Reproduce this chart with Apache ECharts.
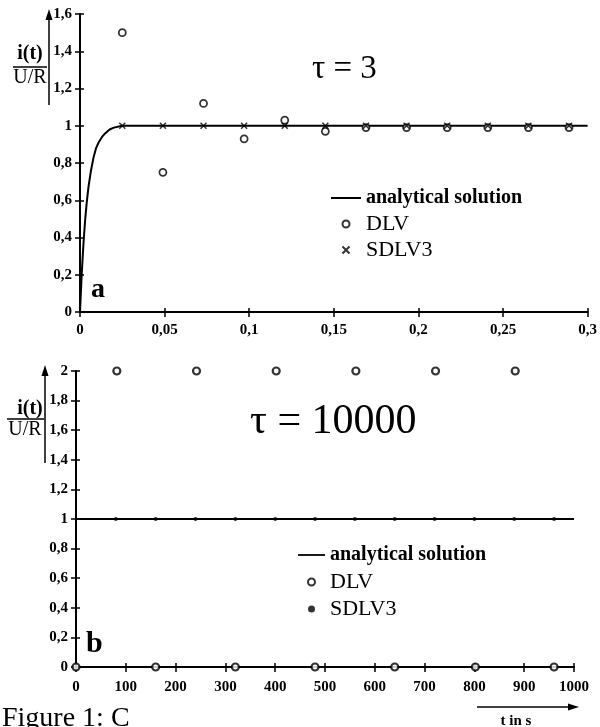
<!DOCTYPE html>
<html>
<head>
<meta charset="utf-8">
<script src="https://cdn.jsdelivr.net/npm/echarts@6/dist/echarts.min.js"></script>
<style>
  html, body { margin: 0; padding: 0; background: #fff; }
  #chart { width: 600px; height: 727px; }
</style>
</head>
<body>
<div id="chart"></div>
<script>
// tau = 3 (upper plot)
var topCurveT = [0, 0.001, 0.002, 0.003, 0.004, 0.005, 0.0065, 0.008, 0.0095, 0.011, 0.013, 0.015, 0.0175, 0.02, 0.025, 0.03, 0.3];
var topCurveV = [0, 0.2, 0.36, 0.49, 0.59, 0.67, 0.76, 0.83, 0.88, 0.91, 0.94, 0.96, 0.98, 0.99, 1, 1, 1];
var topStepT = [0.025, 0.049, 0.073, 0.097, 0.121, 0.145, 0.169, 0.193, 0.217, 0.241, 0.265, 0.289];
var topDLV = [1.5, 0.75, 1.12, 0.93, 1.03, 0.97, 0.99, 0.99, 0.99, 0.99, 0.99, 0.99];
var topSDLV3 = [1, 1, 1, 1, 1, 1, 1, 1, 1, 1, 1, 1];

// tau = 10000 (lower plot)
var botCurveT = [0, 1000];
var botCurveV = [1, 1];
var botDLVT = [0, 82, 160, 242, 320, 402, 480, 562, 640, 722, 802, 882, 960];
var botDLV = [0, 2, 0, 2, 0, 2, 0, 2, 0, 2, 0, 2, 0];
var botSDLVT = [80, 160, 240, 320, 400, 480, 560, 640, 720, 800, 880, 960];
var botSDLV3 = [1, 1, 1, 1, 1, 1, 1, 1, 1, 1, 1, 1];

var serif = 'Liberation Serif';

function zip(xs, ys) {
    return xs.map(function (x, i) { return [x, ys[i]]; });
}

function comma(v) {
    return String(+(+v).toFixed(3)).replace('.', ',');
}

function axis(opt, inside) {
    var a = {
        type: 'value',
        gridIndex: opt.grid,
        min: opt.min,
        max: opt.max,
        interval: opt.interval,
        position: opt.position,
        splitLine: {show: false},
        axisLine: {show: !inside, onZero: false, lineStyle: {color: '#000', width: 2}},
        axisTick: {show: true, inside: inside, length: inside ? 4 : 5, lineStyle: {color: '#000', width: 1.5}},
        axisLabel: {
            show: !inside,
            margin: opt.margin,
            color: '#000',
            fontFamily: serif,
            fontWeight: 'bold',
            fontSize: 15,
            formatter: comma
        }
    };
    return a;
}

function arrow(x1, y1, x2, y2) {
    // decorative arrow, head at (x2, y2)
    var ang = Math.atan2(y2 - y1, x2 - x1);
    var hl = 11, hw = 3.5;
    var bx = x2 - hl * Math.cos(ang), by = y2 - hl * Math.sin(ang);
    var px = -Math.sin(ang) * hw, py = Math.cos(ang) * hw;
    return [{
        type: 'line',
        shape: {x1: x1, y1: y1, x2: bx, y2: by},
        style: {stroke: '#000', lineWidth: 1.5}
    }, {
        type: 'polygon',
        shape: {points: [[x2, y2], [bx + px, by + py], [bx - px, by - py]]},
        style: {fill: '#000'}
    }];
}

function txt(x, y, s, size, weight, align) {
    return {
        type: 'text',
        x: x, y: y,
        style: {
            text: s, fill: '#000', font: (weight || 'normal') + ' ' + size + 'px "' + serif + '"',
            textAlign: align || 'left', textVerticalAlign: 'middle'
        }
    };
}

var graphics = []
    .concat(arrow(49, 105, 49, 9))
    .concat(arrow(45, 463, 45, 365))
    .concat(arrow(477, 707, 579, 707))
    .concat([
        txt(30, 54, 'i(t)', 20, 'bold', 'center'),
        {type: 'line', shape: {x1: 13, y1: 67, x2: 47, y2: 67}, style: {stroke: '#000', lineWidth: 1.5}},
        txt(30, 78, 'U/R', 20, 'normal', 'center'),
        txt(30, 409, 'i(t)', 20, 'bold', 'center'),
        {type: 'line', shape: {x1: 7, y1: 419, x2: 44, y2: 419}, style: {stroke: '#000', lineWidth: 1.5}},
        txt(25, 430, 'U/R', 20, 'normal', 'center'),
        txt(91, 290, 'a', 28, 'bold'),
        txt(86, 644, 'b', 30, 'bold'),
        txt(516, 721, 't in s', 15, 'bold', 'center'),
        txt(2, 719, 'Figure 1: C', 28, 'normal')
    ]);

var lineIcon = 'path://M0,0L30,0L30,2L0,2Z';

var chart = echarts.init(document.getElementById('chart'));

var option = {
    backgroundColor: '#fff',
    animation: false,
    title: [{
        text: 'τ = 3', left: 307, top: 48,
        textStyle: {fontFamily: serif, fontWeight: 'normal', fontSize: 33, color: '#000'}
    }, {
        text: 'τ = 10000', left: 245, top: 396,
        textStyle: {fontFamily: serif, fontWeight: 'normal', fontSize: 42, color: '#000'}
    }],
    grid: [
        {left: 80, top: 14, width: 508, height: 298},
        {left: 76, top: 371, width: 498, height: 296}
    ],
    xAxis: [
        axis({grid: 0, min: 0, max: 0.3, interval: 0.05, margin: 11, position: 'bottom'}, false),
        axis({grid: 0, min: 0, max: 0.3, interval: 0.05, position: 'bottom'}, true),
        axis({grid: 1, min: 0, max: 1000, interval: 100, margin: 13, position: 'bottom'}, false),
        axis({grid: 1, min: 0, max: 1000, interval: 100, position: 'bottom'}, true)
    ],
    yAxis: [
        axis({grid: 0, min: 0, max: 1.6, interval: 0.2, margin: 8, position: 'left'}, false),
        axis({grid: 0, min: 0, max: 1.6, interval: 0.2, position: 'left'}, true),
        axis({grid: 1, min: 0, max: 2, interval: 0.2, margin: 8, position: 'left'}, false),
        axis({grid: 1, min: 0, max: 2, interval: 0.2, position: 'left'}, true)
    ],
    legend: [{
        left: 326, top: 182, orient: 'vertical', selectedMode: false,
        itemWidth: 30, itemHeight: 7, itemGap: 4,
        textStyle: {fontFamily: serif, fontSize: 22, color: '#000', lineHeight: 22},
        data: [
            {name: 'analytical solution', icon: lineIcon, itemStyle: {color: '#000'},
             textStyle: {fontWeight: 'bold', fontSize: 20}},
            'DLV',
            'SDLV3'
        ]
    }, {
        left: 293, top: 539, orient: 'vertical', selectedMode: false,
        itemWidth: 27, itemHeight: 7, itemGap: 5,
        textStyle: {fontFamily: serif, fontSize: 22, color: '#000', lineHeight: 22},
        data: [
            {name: 'analytical solution', icon: lineIcon, itemStyle: {color: '#000'},
             textStyle: {fontWeight: 'bold', fontSize: 20}},
            'DLV',
            {name: 'SDLV3', icon: 'circle', itemStyle: {color: '#000', borderWidth: 0}}
        ]
    }],
    series: [{
        name: 'analytical solution', type: 'line', xAxisIndex: 0, yAxisIndex: 0,
        data: zip(topCurveT, topCurveV), symbol: 'none',
        itemStyle: {color: '#000'},
        lineStyle: {color: '#000', width: 2}, z: 2
    }, {
        name: 'DLV', type: 'scatter', xAxisIndex: 0, yAxisIndex: 0,
        data: zip(topStepT, topDLV), symbol: 'circle', symbolSize: 7,
        itemStyle: {color: '#fff', borderColor: '#000', borderWidth: 1.8}, z: 3
    }, {
        name: 'SDLV3', type: 'scatter', xAxisIndex: 0, yAxisIndex: 0,
        data: zip(topStepT, topSDLV3), symbol: 'path://M0,0L10,10M10,0L0,10', symbolSize: 6,
        itemStyle: {color: '#000', borderColor: '#000', borderWidth: 1.5}, z: 4
    }, {
        name: 'analytical solution', type: 'line', xAxisIndex: 2, yAxisIndex: 2,
        data: zip(botCurveT, botCurveV), symbol: 'none',
        itemStyle: {color: '#000'},
        lineStyle: {color: '#000', width: 2}, z: 2
    }, {
        name: 'DLV', type: 'scatter', xAxisIndex: 2, yAxisIndex: 2,
        data: zip(botDLVT, botDLV), symbol: 'circle', symbolSize: 7,
        itemStyle: {color: '#fff', borderColor: '#000', borderWidth: 2.2}, z: 3
    }, {
        name: 'SDLV3', type: 'scatter', xAxisIndex: 2, yAxisIndex: 2,
        data: zip(botSDLVT, botSDLV3), symbol: 'circle', symbolSize: 4,
        itemStyle: {color: '#000'}, z: 4
    }],
    graphic: graphics
};

chart.setOption(option);
</script>
</body>
</html>
